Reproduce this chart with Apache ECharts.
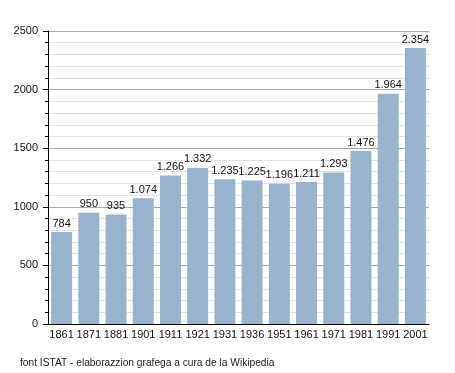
<!DOCTYPE html>
<html><head><meta charset="utf-8">
<script src="https://cdn.jsdelivr.net/npm/echarts@6/dist/echarts.min.js"></script>
<style>html,body{margin:0;padding:0;background:#fff}#c{width:455px;height:373px}</style>
</head><body><div id="c"></div>
<script>
const years = ['1861','1871','1881','1901','1911','1921','1931','1936','1951','1961','1971','1981','1991','2001'];
const population = [784,950,935,1074,1266,1332,1235,1225,1196,1211,1293,1476,1964,2354];
const yTicks = [0,500,1000,1500,2000,2500];
const footer = 'font ISTAT - elaborazzion grafega a cura de la Wikipedia';

function fmt(v){ return String(v).replace(/\B(?=(\d{3})+(?!\d))/g,'.'); }

const chart = echarts.init(document.getElementById('c'), null, {renderer:'canvas'});
chart.setOption({
  animation:false,
  textStyle:{fontFamily:'Liberation Sans, Arial, sans-serif'},
  grid:{left:48,right:26,top:31,bottom:49,containLabel:false},
  graphic:[{type:'text',left:20,top:358,style:{text:footer,fontSize:10.2,fill:'#222',fontFamily:'Liberation Sans, Arial, sans-serif'}}],
  xAxis:{
    type:'category',data:years,
    axisLine:{lineStyle:{color:'#000',width:1}},
    axisTick:{show:false},
    axisLabel:{color:'#111',fontSize:11,margin:5,interval:0}
  },
  yAxis:{
    type:'value',min:yTicks[0],max:yTicks[yTicks.length-1],interval:500,
    axisLine:{show:true,lineStyle:{color:'#000',width:1}},
    axisTick:{show:true,length:5,lineStyle:{color:'#000'}},
    minorTick:{show:true,splitNumber:5,length:3,lineStyle:{color:'#000'}},
    splitLine:{show:true,lineStyle:{color:'#aaaaaa',width:1}},
    minorSplitLine:{show:true,lineStyle:{color:'#e2e2e2',width:1}},
    axisLabel:{color:'#111',fontSize:11,margin:10,formatter:v=>String(v)}
  },
  series:[{
    type:'bar',data:population,barWidth:21,
    itemStyle:{color:'#9ab3cc'},
    label:{show:true,position:'top',distance:3,color:'#111',fontSize:11,formatter:p=>fmt(p.value)}
  }]
});
</script></body></html>
